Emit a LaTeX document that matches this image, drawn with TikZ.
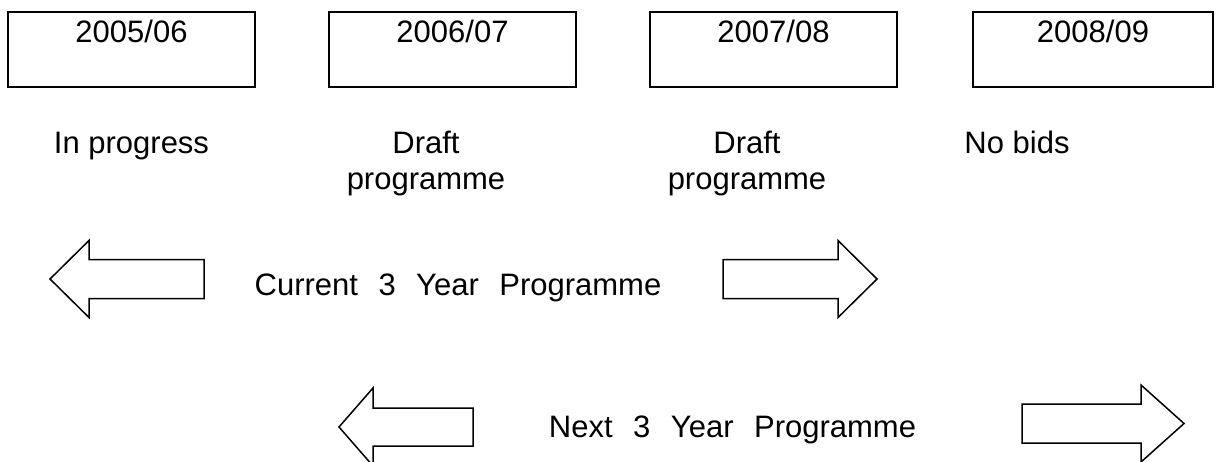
\documentclass[tikz,border=0pt]{standalone}
\usepackage{fontspec}
\setmainfont{Liberation Sans}
\newcommand{\wgap}{\hspace{20.5pt}}
\begin{document}
\begin{tikzpicture}[x=1pt,y=-1pt,
	yearbox/.style={shape=rectangle, draw=black, line width=2.4pt, minimum width=247pt, minimum height=75pt, inner sep=0pt},
	yeartext/.style={anchor=base, inner sep=0pt, font=\fontsize{31}{36}\selectfont},
	note/.style={anchor=base, inner sep=0pt, align=center, font=\fontsize{31}{36}\selectfont},
	fat/.style={draw=black, line width=1.5pt, line join=miter}]
		\clip (0,0) rectangle (1217,462);
		% years
		\node (box0506) at (131.5,49.5) [yearbox] {};
		\node (box0607) at (452.5,49.5) [yearbox] {};
		\node (box0708) at (773.5,49.5) [yearbox] {};
		\node (box0809) at (1093,49.5) [yearbox, minimum width=240pt] {};
		\node (yr0506) at (131.5,43) [yeartext] {2005/06};
		\node (yr0607) at (452.5,43) [yeartext] {2006/07};
		\node (yr0708) at (773.5,43) [yeartext] {2007/08};
		\node (yr0809) at (1093,43) [yeartext] {2008/09};
		% status (base = last line)
		\node (st0506) at (131.5,154) [note] {In progress};
		\node (st0607) at (426,190) [note] {Draft\\programme};
		\node (st0708) at (747,190) [note] {Draft\\programme};
		\node (st0809) at (1017,154) [note] {No bids};
		% programmes
		\node (current) at (458,295) [note] {Current\wgap 3\wgap Year\wgap Programme};
		\node (next) at (732.5,437) [note] {Next\wgap 3\wgap Year\wgap Programme};
		\draw[fat] (50,279) -- (89,240.5) -- (89,259.5) -- (204,259.5) -- (204,298.5) -- (89,298.5) -- (89,317.5) -- cycle;
		\draw[fat] (877,279) -- (838,240.5) -- (838,259.5) -- (723,259.5) -- (723,298.5) -- (838,298.5) -- (838,317.5) -- cycle;
		\draw[fat] (339,427) -- (373,388) -- (373,408) -- (473,408) -- (473,446) -- (373,446) -- (373,466) -- cycle;
		\draw[fat] (1184,423.5) -- (1141,385) -- (1141,404) -- (1022,404) -- (1022,443) -- (1141,443) -- (1141,462) -- cycle;
		\end{tikzpicture}
\end{document}
